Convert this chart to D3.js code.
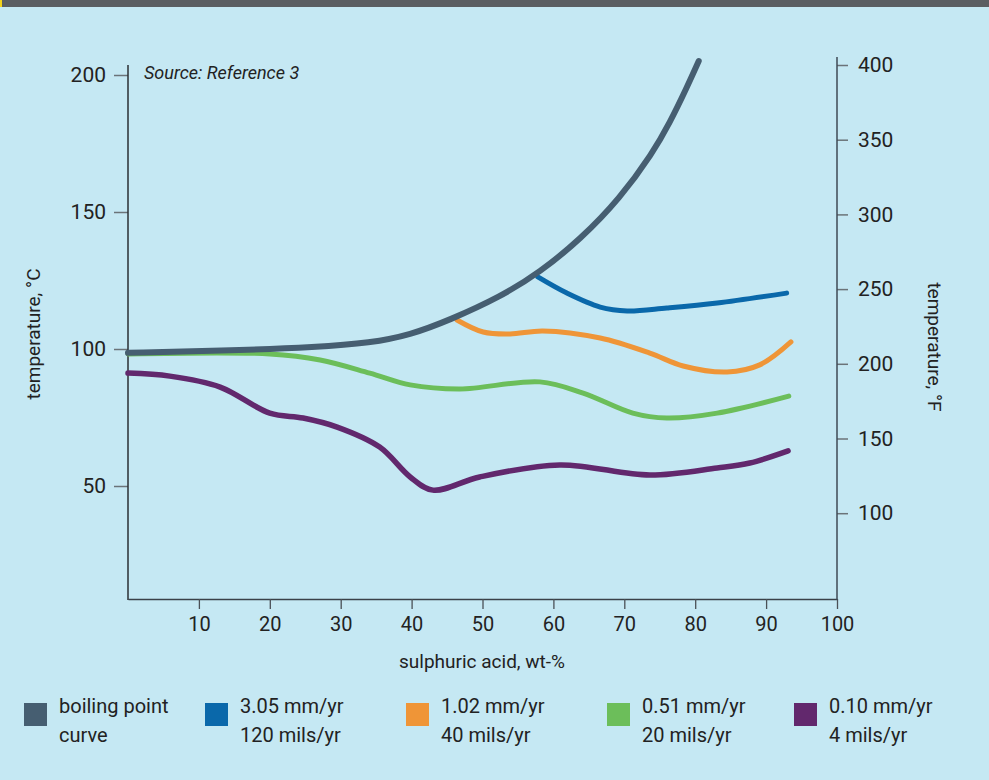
<!DOCTYPE html>
<html>
<head>
<meta charset="utf-8">
<script src="https://cdn.jsdelivr.net/npm/d3@7"></script>
<style>
body { margin: 0; background: #c5e8f3; }
svg { display: block; font-family: Roboto, "Liberation Sans", sans-serif; }
</style>
</head>
<body>
<svg id="chart" width="989" height="780"></svg>
<script>
// sulphuric acid wt-% vs temperature (°C)
var boilX = [0, 13, 27.1, 34.1, 39.8, 45.4, 52.5, 58.1, 63.8, 69.4, 74.0, 76.4, 78.8, 80.5];
var boilY = [98.6, 99.3, 100.7, 102.2, 105.1, 110.6, 119, 128, 140, 155, 171.5, 182.5, 195.3, 205.1];

var blueX = [57.8, 61.9, 66.6, 70.4, 76.0, 83.1, 92.9];
var blueY = [126.3, 120.4, 115.3, 113.9, 115, 116.8, 120.4];

var orangeX = [46.4, 50.1, 53.9, 58.5, 66.6, 73.6, 78.3, 84.5, 89.1, 93.5];
var orangeY = [110.6, 106.2, 105.5, 106.6, 104, 98.5, 93.8, 91.6, 94.2, 102.6];

var greenX = [0, 20, 27.1, 34.1, 39.8, 46.8, 58.1, 64.2, 71.2, 76.0, 83.1, 93.2];
var greenY = [98.2, 98.2, 96, 91.2, 86.9, 85.4, 88, 83.9, 76.6, 74.8, 76.6, 82.8];

var purpleX = [0, 5.9, 13, 20, 24.7, 29.5, 35.5, 39.8, 43, 49.6, 60.9, 73.6, 83.1, 87.7, 93.1];
var purpleY = [91.2, 90.1, 86.1, 76.6, 74.8, 71.5, 64.2, 53.3, 48.5, 53.3, 57.7, 54, 56.6, 58.4, 62.8];

var xTicks = [10, 20, 30, 40, 50, 60, 70, 80, 90, 100];
var cTicks = [50, 100, 150, 200];
var fTicks = [100, 150, 200, 250, 300, 350, 400];

var legendLine1 = ["boiling point", "3.05 mm/yr", "1.02 mm/yr", "0.51 mm/yr", "0.10 mm/yr"];
var legendLine2 = ["curve", "120 mils/yr", "40 mils/yr", "20 mils/yr", "4 mils/yr"];
var colors = ["#465e71", "#0a68aa", "#ef9537", "#6cbe5a", "#62286d"];

var svg = d3.select("#chart");

// top strip
svg.append("rect").attr("x", 0).attr("y", 0).attr("width", 989).attr("height", 7).attr("fill", "#5b5e62");
svg.append("rect").attr("x", 0).attr("y", 0).attr("width", 2).attr("height", 7).attr("fill", "#f2d31b");

var x = d3.scaleLinear().domain([0, 100]).range([128, 837]);
var yC = d3.scaleLinear().domain([0, 200]).range([623, 75]);
var yF = d3.scaleLinear().domain([0, 400]).range([662.6, 65]);

// x axis
var gx = svg.append("g")
  .attr("transform", "translate(0,599)")
  .call(d3.axisBottom(x).tickValues(xTicks).tickSize(10).tickSizeOuter(0).tickPadding(8));
gx.select(".domain").attr("stroke", "#3a4148").attr("stroke-width", 1.5);
gx.selectAll(".tick line").attr("stroke", "#4a5056").attr("stroke-width", 1.3);
gx.selectAll(".tick text").attr("font-size", 20).attr("fill", "#222").attr("font-family", "Roboto");

// left axis
var gl = svg.append("g")
  .attr("transform", "translate(128,0)")
  .call(d3.axisLeft(yC).tickValues(cTicks).tickSize(14).tickPadding(8));
gl.select(".domain").remove();
gl.selectAll(".tick line").attr("stroke", "#6b7378").attr("stroke-width", 1.5);
gl.selectAll(".tick text").attr("font-size", 21).attr("fill", "#222").attr("font-family", "Roboto");
svg.append("line").attr("x1", 128).attr("x2", 128).attr("y1", 65).attr("y2", 600)
  .attr("stroke", "#2a2f33").attr("stroke-width", 1.5);

// right axis
var gr = svg.append("g")
  .attr("transform", "translate(837,0)")
  .call(d3.axisRight(yF).tickValues(fTicks).tickSize(11).tickPadding(10));
gr.select(".domain").remove();
gr.selectAll(".tick line").attr("stroke", "#6b7378").attr("stroke-width", 1.5);
gr.selectAll(".tick text").attr("font-size", 21).attr("fill", "#222").attr("font-family", "Roboto");
svg.append("line").attr("x1", 837).attr("x2", 837).attr("y1", 57).attr("y2", 600)
  .attr("stroke", "#3e4a55").attr("stroke-width", 1.5);

// axis titles
svg.append("text")
  .attr("transform", "translate(40,334) rotate(-90)")
  .attr("text-anchor", "middle").attr("font-size", 19).attr("fill", "#222")
  .text("temperature, °C");
svg.append("text")
  .attr("transform", "translate(928,347) rotate(90)")
  .attr("text-anchor", "middle").attr("font-size", 19).attr("fill", "#222")
  .text("temperature, °F");
svg.append("text")
  .attr("x", 482).attr("y", 668)
  .attr("text-anchor", "middle").attr("font-size", 19).attr("fill", "#222")
  .text("sulphuric acid, wt-%");
svg.append("text")
  .attr("x", 144).attr("y", 79)
  .attr("font-size", 18).attr("font-style", "italic").attr("fill", "#222")
  .text("Source: Reference 3");

// curves
var seriesX = [boilX, blueX, orangeX, greenX, purpleX];
var seriesY = [boilY, blueY, orangeY, greenY, purpleY];
var widths = [6, 5, 5, 5, 5.5];

var line = d3.line()
  .x(function(d) { return x(d[0]); })
  .y(function(d) { return yC(d[1]); })
  .curve(d3.curveCatmullRom.alpha(0.5));

// boiling curve is a smooth sweep, basis spline irons out reading noise
var boilLine = d3.line()
  .x(function(d) { return x(d[0]); })
  .y(function(d) { return yC(d[1]); })
  .curve(d3.curveBasis);

// draw the boiling curve last so it sits on top
[4, 3, 2, 1, 0].forEach(function(i) {
  var pts = seriesX[i].map(function(v, j) { return [v, seriesY[i][j]]; });
  svg.append("path")
    .datum(pts)
    .attr("d", i == 0 ? boilLine : line)
    .attr("fill", "none")
    .attr("stroke", colors[i])
    .attr("stroke-width", widths[i])
    .attr("stroke-linecap", "round")
    .attr("stroke-linejoin", "round");
});

// legend
var legX = [24, 205, 406, 607, 794];
var leg = svg.selectAll(".leg")
  .data(legendLine1)
  .enter().append("g")
  .attr("class", "leg")
  .attr("transform", function(d, i) { return "translate(" + legX[i] + ",703)"; });
leg.append("rect")
  .attr("width", 23).attr("height", 23)
  .attr("fill", function(d, i) { return colors[i]; });
leg.append("text")
  .attr("x", 35).attr("y", 10).attr("font-size", 20).attr("fill", "#222")
  .text(function(d) { return d; });
leg.append("text")
  .attr("x", 35).attr("y", 39).attr("font-size", 20).attr("fill", "#222")
  .text(function(d, i) { return legendLine2[i]; });
</script>
</body>
</html>
